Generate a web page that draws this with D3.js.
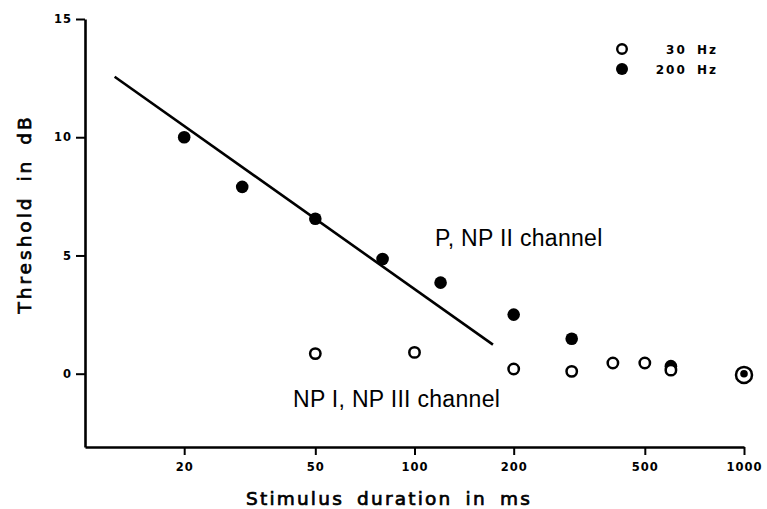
<!DOCTYPE html>
<html>
<head>
<meta charset="utf-8">
<script src="https://cdn.jsdelivr.net/npm/d3@7"></script>
<style>
  html, body { margin: 0; padding: 0; background: #fff; }
  svg { display: block; }
  .tick text { font-family: 'DejaVu Sans', sans-serif; font-weight: bold; font-size: 11.5px; letter-spacing: 1px; }
</style>
</head>
<body>
<div id="chart"></div>
<script>
// values
let durations30 = [50, 100, 200, 300, 400, 500, 600, 1000];
let threshold30 = [0.85, 0.9, 0.2, 0.1, 0.45, 0.45, 0.15, -0.05];
let durations200 = [20, 30, 50, 80, 120, 200, 300, 600, 1000];
let threshold200 = [10.0, 7.9, 6.55, 4.85, 3.85, 2.5, 1.48, 0.32, 0.0];
let fitDurations = [12.3, 173];
let fitThreshold = [12.56, 1.23];
let xTicks = [20, 50, 100, 200, 500, 1000];
let yTicks = [0, 5, 10, 15];
let legendLabels = ['30 Hz', '200 Hz'];

let width = 767;
let height = 509;

let svg = d3.select('#chart').append('svg')
            .attr('width', width)
            .attr('height', height);

let xScale = d3.scaleLog().domain([10, 1000]).range([85, 744]);
let yScale = d3.scaleLinear().domain([-3.1, 15]).range([447, 19]);

// x axis
svg.append('g')
   .attr('transform', `translate(0, ${yScale(-3.1)})`)
   .call(d3.axisBottom(xScale)
           .tickValues(xTicks)
           .tickFormat(d3.format('d'))
           .tickSize(8)
           .tickSizeOuter(0)
           .tickPadding(8));

// y axis
svg.append('g')
   .attr('transform', `translate(${xScale(10)}, 0)`)
   .call(d3.axisLeft(yScale)
           .tickValues(yTicks)
           .tickSize(9)
           .tickSizeOuter(0)
           .tickPadding(4));

svg.selectAll('.domain').attr('stroke', '#000').attr('stroke-width', 2.6);
svg.selectAll('.tick line').attr('stroke', '#000').attr('stroke-width', 2);
svg.selectAll('.tick text').attr('fill', '#000');

// regression line
let fit = fitDurations.map((d, i) => [d, fitThreshold[i]]);
svg.append('path')
   .datum(fit)
   .attr('fill', 'none')
   .attr('stroke', '#000')
   .attr('stroke-width', 2.6)
   .attr('d', d3.line().x(d => xScale(d[0])).y(d => yScale(d[1])));

let filled = durations200.map((d, i) => ({ x: d, y: threshold200[i] }));
let open = durations30.map((d, i) => ({ x: d, y: threshold30[i] }));

// an open point sitting right on a filled one is drawn as a ring round it
let coincides = p => filled.some(f => f.x === p.x && Math.abs(f.y - p.y) < 0.1);

// 200 Hz points
svg.selectAll('circle.hz200')
   .data(filled)
   .enter()
   .append('circle')
   .attr('class', 'hz200')
   .attr('cx', d => xScale(d.x))
   .attr('cy', d => yScale(d.y))
   .attr('r', d => open.some(p => p.x === d.x && Math.abs(p.y - d.y) < 0.1) ? 3.8 : 6.3)
   .attr('fill', '#000');

// 30 Hz points
svg.selectAll('circle.hz30')
   .data(open)
   .enter()
   .append('circle')
   .attr('class', 'hz30')
   .attr('cx', d => xScale(d.x))
   .attr('cy', d => yScale(d.y))
   .attr('r', d => coincides(d) ? 8 : 5.2)
   .attr('fill', d => coincides(d) ? 'none' : '#fff')
   .attr('stroke', '#000')
   .attr('stroke-width', 2.5);

// channel labels
svg.append('text')
   .attr('x', 435)
   .attr('y', 246)
   .style('font-family', "'Liberation Sans', Arial, sans-serif")
   .style('font-size', '23px')
   .style('letter-spacing', '0.3px')
   .text('P, NP II channel');

svg.append('text')
   .attr('x', 293)
   .attr('y', 407)
   .style('font-family', "'Liberation Sans', Arial, sans-serif")
   .style('font-size', '23px')
   .style('letter-spacing', '0.3px')
   .text('NP I, NP III channel');

// legend
let legend = svg.append('g').attr('transform', 'translate(622, 49)');
legendLabels.forEach((label, i) => {
  legend.append('circle')
        .attr('cx', 0)
        .attr('cy', i * 20)
        .attr('r', i === 0 ? 4.8 : 6)
        .attr('fill', i === 0 ? '#fff' : '#000')
        .attr('stroke', '#000')
        .attr('stroke-width', i === 0 ? 2.4 : 0);
  legend.append('text')
        .attr('x', 96)
        .attr('y', i * 20 + 5)
        .attr('text-anchor', 'end')
        .style('font-family', "'DejaVu Sans', sans-serif")
        .style('font-weight', 'bold')
        .style('font-size', '12px')
        .style('letter-spacing', '2px')
        .style('word-spacing', '4px')
        .text(label);
});

// axis titles, regular weight thickened a little with a stroke
svg.append('text')
   .attr('x', 389)
   .attr('y', 505)
   .attr('text-anchor', 'middle')
   .attr('stroke', '#000')
   .attr('stroke-width', 0.7)
   .style('font-family', "'DejaVu Sans', sans-serif")
   .style('font-size', '18.5px')
   .style('letter-spacing', '2.2px')
   .style('word-spacing', '5px')
   .text('Stimulus duration in ms');

svg.append('text')
   .attr('transform', 'translate(31, 214) rotate(-90)')
   .attr('text-anchor', 'middle')
   .attr('stroke', '#000')
   .attr('stroke-width', 0.7)
   .style('font-family', "'DejaVu Sans', sans-serif")
   .style('font-size', '18.5px')
   .style('letter-spacing', '3px')
   .style('word-spacing', '5px')
   .text('Threshold in dB');
</script>
</body>
</html>
